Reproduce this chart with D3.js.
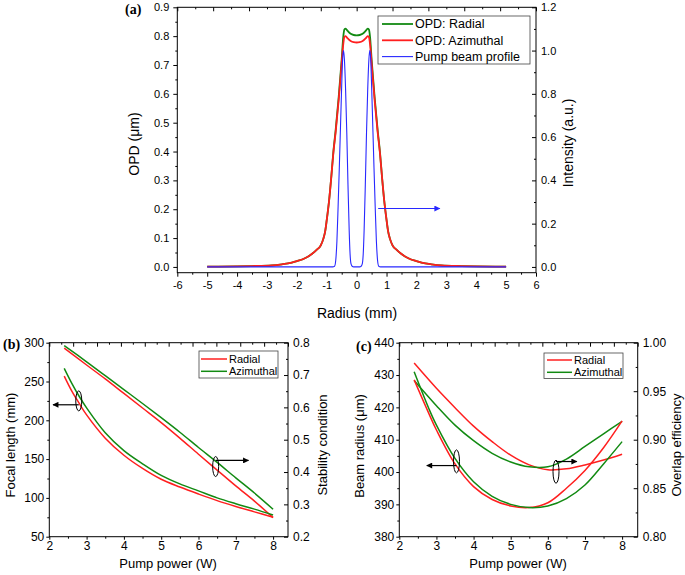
<!DOCTYPE html>
<html><head><meta charset="utf-8">
<script src="https://cdn.jsdelivr.net/npm/d3@7"></script>
<style>body{margin:0;background:#fff}text{font-family:"Liberation Sans",Arial,sans-serif;fill:#000}</style>
</head><body>
<script>
// ---------- Panel (a) data ----------
const radiusA = [-5,-4,-3.5,-2.84,-2.5,-2.17,-2,-1.73,-1.5,-1.34,-1.2,-1.11,-1.05,-1,-0.92,-0.85,-0.78,-0.7,-0.6,-0.5,-0.45,-0.41,-0.37,-0.3,-0.2,-0.1,0,0.1,0.2,0.3,0.37,0.41,0.45,0.5,0.6,0.7,0.78,0.85,0.92,1,1.05,1.11,1.2,1.34,1.5,1.73,2,2.17,2.5,2.84,3.5,4,5];
const opdAzimuthal = [0.001,0.002,0.003,0.005,0.009,0.015,0.02,0.03,0.045,0.059,0.075,0.099,0.125,0.163,0.232,0.31,0.394,0.47,0.58,0.707,0.77,0.797,0.8,0.792,0.783,0.779,0.778,0.779,0.783,0.792,0.8,0.797,0.77,0.707,0.58,0.47,0.394,0.31,0.232,0.163,0.125,0.099,0.075,0.059,0.045,0.03,0.02,0.015,0.009,0.005,0.003,0.002,0.001];
const opdRadial = [0.001,0.002,0.003,0.005,0.009,0.015,0.02,0.03,0.045,0.059,0.075,0.099,0.125,0.163,0.232,0.31,0.398,0.477,0.59,0.72,0.795,0.823,0.826,0.818,0.808,0.804,0.803,0.804,0.808,0.818,0.826,0.823,0.795,0.72,0.59,0.477,0.398,0.31,0.232,0.163,0.125,0.099,0.075,0.059,0.045,0.03,0.02,0.015,0.009,0.005,0.003,0.002,0.001];
const radiusPump = [-5,-0.8,-0.74,-0.7,-0.66,-0.62,-0.58,-0.54,-0.5,-0.47,-0.44,-0.41,-0.37,-0.33,-0.29,-0.25,-0.22,-0.19,-0.15,-0.1,0,0.1,0.15,0.19,0.22,0.25,0.29,0.33,0.37,0.41,0.44,0.47,0.5,0.54,0.58,0.62,0.66,0.7,0.74,0.8,5];
const pumpProfile = [0,0,0.003,0.03,0.12,0.28,0.46,0.65,0.84,0.96,1.0,0.96,0.82,0.62,0.38,0.17,0.06,0.015,0.003,0,0,0,0.003,0.015,0.06,0.17,0.38,0.62,0.82,0.96,1.0,0.96,0.84,0.65,0.46,0.28,0.12,0.03,0.003,0,0];
const legendA = ["OPD: Radial","OPD: Azimuthal","Pump beam profile"];
const ticksAx = [-6,-5,-4,-3,-2,-1,0,1,2,3,4,5,6];
const ticksAyL = [0,0.1,0.2,0.3,0.4,0.5,0.6,0.7,0.8,0.9];
const ticksAyR = [0,0.2,0.4,0.6,0.8,1.0,1.2];

// ---------- Panel (b) data ----------
const powerB = [2.4,2.6,2.8,3,3.5,4,4.5,5,5.5,6,6.5,7,7.5,8];
const focalRadial = [257,238,222,207,177,155,138,124,114,105,96.5,89,82,75];
const focalAzimuthal = [267,248,231,216,184,161,144,129,118,109,100,92.5,85.5,78];
const powerS = [2.4,3,3.5,4,4.5,5,5.5,6,6.5,7,7.5,8];
const stabRadial = [0.783,0.731,0.688,0.643,0.598,0.553,0.505,0.455,0.406,0.357,0.31,0.259];
const stabAzimuthal = [0.791,0.741,0.698,0.655,0.612,0.568,0.523,0.476,0.43,0.382,0.335,0.285];
const ticksBx = [2,3,4,5,6,7,8];
const ticksByL = [50,100,150,200,250,300];
const ticksByR = [0.2,0.3,0.4,0.5,0.6,0.7,0.8];

// ---------- Panel (c) data ----------
const powerC = [2.4,2.8,3,3.5,4,4.5,5,5.5,6,6.5,7,7.5,8];
const beamRadial = [428.5,418,413,402.5,395.5,391.5,389.5,389,390.5,395,400.5,407.5,415.8];
const beamAzimuthal = [431,419.5,414.5,404.2,397,392.5,390,389,389.5,391.8,396,402.5,409.4];
const powerO = [2.4,3,3.5,4,4.5,5,5.5,6,6.5,7,7.5,8];
const overlapRadial = [0.979,0.953,0.933,0.914,0.898,0.884,0.874,0.869,0.870,0.874,0.879,0.885];
const overlapAzimuthal = [0.961,0.935,0.915,0.899,0.886,0.877,0.872,0.872,0.880,0.893,0.906,0.919];
const ticksCx = [2,3,4,5,6,7,8];
const ticksCyL = [380,390,400,410,420,430,440];
const ticksCyR = [0.80,0.85,0.90,0.95,1.00];
const legendBC = ["Radial","Azimuthal"];

const RED = "#ff1f1f", GREEN = "#128a12", BLUE = "#2828ff";

const svg = d3.select("body").append("svg").attr("width",685).attr("height",575);
const defs = svg.append("defs");
function marker(id,color){
  defs.append("marker").attr("id",id).attr("viewBox","0 0 10 10").attr("refX",9).attr("refY",5)
    .attr("markerWidth",7).attr("markerHeight",6).attr("markerUnits","userSpaceOnUse").attr("orient","auto")
    .append("path").attr("d","M0,0L10,5L0,10z").attr("fill",color);
}
marker("arBlue",BLUE); marker("arBlack","#000");

function halfSteps(arr){ const out=[]; for(let i=0;i<arr.length-1;i++) out.push((arr[i]+arr[i+1])/2); return out; }
const hyph = f => (d => f(d).replace("\u2212","-"));

function drawPanel(o){
  const g = svg.append("g");
  const x = d3.scaleLinear().domain(o.xd).range(o.xr);
  const yL = d3.scaleLinear().domain(o.yLd).range(o.yr);
  const yR = d3.scaleLinear().domain(o.yRd).range(o.yr);
  const [x0,x1] = o.xr, [y1,y0] = o.yr;
  const fs = o.fs;
  const bx = g.append("g").attr("transform",`translate(0,${y1})`);
  bx.call(d3.axisBottom(x).tickValues(o.tx).tickFormat(hyph(d3.format("d"))).tickSize(o.tl).tickPadding(o.pb));
  bx.append("g").call(d3.axisBottom(x).tickValues(halfSteps(o.tx)).tickFormat("").tickSize(2));
  const topVals = d3.range(11).map(i=>o.xd[0]+(o.xd[1]-o.xd[0])*i/10);
  const tx = g.append("g").attr("transform",`translate(0,${y0})`);
  tx.call(d3.axisTop(x).tickValues(topVals).tickFormat("").tickSize(-4));
  tx.append("g").call(d3.axisTop(x).tickValues(halfSteps(topVals)).tickFormat("").tickSize(-2));
  const lx = g.append("g").attr("transform",`translate(${x0},0)`);
  lx.call(d3.axisLeft(yL).tickValues(o.tyL).tickFormat(d3.format(o.fL)).tickSize(o.tl).tickPadding(o.pl));
  lx.append("g").call(d3.axisLeft(yL).tickValues(halfSteps(o.tyL)).tickFormat("").tickSize(2));
  const rx = g.append("g").attr("transform",`translate(${x1},0)`);
  rx.call(d3.axisRight(yR).tickValues(o.tyR).tickFormat(d3.format(o.fR)).tickSizeInner(-4).tickSizeOuter(0).tickPadding(5));
  rx.append("g").call(d3.axisRight(yR).tickValues(halfSteps(o.tyR)).tickFormat("").tickSizeInner(-2).tickSizeOuter(0));
  g.selectAll(".domain").remove();
  g.selectAll(".tick line").attr("stroke","#000");
  g.selectAll(".tick text").attr("font-size",fs).attr("font-family","Liberation Sans, Arial, sans-serif").attr("fill","#000");
  g.append("rect").attr("x",x0).attr("y",y0).attr("width",x1-x0).attr("height",y1-y0)
    .attr("fill","none").attr("stroke","#000").attr("stroke-width",1);
  return {g,x,yL,yR};
}

function line(xs,ys,xsc,ysc,curve){
  return d3.line().x((d,i)=>xsc(xs[i])).y(d=>ysc(d)).curve(curve)(ys);
}
function axTitle(txt,x,y,rot,fs){
  const t = svg.append("text").attr("font-size",fs).attr("text-anchor","middle");
  if(rot) t.attr("transform",`translate(${x},${y}) rotate(-90)`).attr("dy","0.35em");
  else t.attr("x",x).attr("y",y);
  t.text(txt); return t;
}
function panelLabel(txt,x,y){
  svg.append("text").attr("x",x).attr("y",y).attr("font-size",14).attr("font-weight","bold")
    .style("font-family","'Liberation Serif', 'Times New Roman', serif").text(txt);
}

// ---------- Panel (a) ----------
const A = drawPanel({xd:[-6,6],xr:[177.3,536],yLd:[-0.02,0.9],yRd:[-0.0267,1.2],yr:[272.7,7.3],
  tx:ticksAx,tyL:ticksAyL,tyR:ticksAyR,fL:".1f",fR:".1f",fs:11,tl:4,pb:5,pl:4});
A.g.append("path").attr("d",line(radiusA,opdRadial,A.x,A.yL,d3.curveMonotoneX)).attr("fill","none").attr("stroke",GREEN).attr("stroke-width",1.8);
A.g.append("path").attr("d",line(radiusA,opdAzimuthal,A.x,A.yL,d3.curveMonotoneX)).attr("fill","none").attr("stroke",RED).attr("stroke-width",1.8);
A.g.append("path").attr("d",line(radiusPump,pumpProfile,A.x,A.yR,d3.curveMonotoneX)).attr("fill","none").attr("stroke",BLUE).attr("stroke-width",1.1);
svg.append("line").attr("x1",A.x(0.72)).attr("x2",A.x(2.78)).attr("y1",A.yR(0.27)).attr("y2",A.yR(0.27))
  .attr("stroke",BLUE).attr("stroke-width",1.1).attr("marker-end","url(#arBlue)");
svg.append("rect").attr("x",378).attr("y",16).attr("width",152).attr("height",48).attr("fill","#fff").attr("stroke","#444").attr("stroke-width",0.8);
[GREEN,RED,BLUE].forEach((c,i)=>{
  const yy = 24+i*16.3;
  svg.append("line").attr("x1",382).attr("x2",413).attr("y1",yy).attr("y2",yy).attr("stroke",c).attr("stroke-width",i<2?1.8:1.1);
  svg.append("text").attr("x",415).attr("y",yy+4.3).attr("font-size",12.5).text(legendA[i]);
});
axTitle("OPD (\u03bcm)",134,144,true,14);
axTitle("Intensity (a.u.)",568,143,true,14);
axTitle("Radius (mm)",357,318,false,14);
panelLabel("(a)",125,14);

// ---------- Panel (b) ----------
const B = drawPanel({xd:[2,8.4],xr:[49.3,288],yLd:[50,300],yRd:[0.2,0.8],yr:[536.7,342.7],
  tx:ticksBx,tyL:ticksByL,tyR:ticksByR,fL:"d",fR:".1f",fs:12,tl:3,pb:2,pl:2});
const cr = d3.curveCatmullRom.alpha(0.5);
B.g.append("path").attr("d",line(powerS,stabRadial,B.x,B.yR,cr)).attr("fill","none").attr("stroke",RED).attr("stroke-width",1.5);
B.g.append("path").attr("d",line(powerS,stabAzimuthal,B.x,B.yR,cr)).attr("fill","none").attr("stroke",GREEN).attr("stroke-width",1.5);
B.g.append("path").attr("d",line(powerB,focalRadial,B.x,B.yL,cr)).attr("fill","none").attr("stroke",RED).attr("stroke-width",1.5);
B.g.append("path").attr("d",line(powerB,focalAzimuthal,B.x,B.yL,cr)).attr("fill","none").attr("stroke",GREEN).attr("stroke-width",1.5);
svg.append("ellipse").attr("cx",B.x(2.79)).attr("cy",B.yL(225)).attr("rx",3).attr("ry",10).attr("fill","none").attr("stroke","#000").attr("stroke-width",1);
svg.append("line").attr("x1",B.x(2.79)).attr("x2",B.x(2.1)).attr("y1",B.yL(220)).attr("y2",B.yL(220)).attr("stroke","#000").attr("stroke-width",1.2).attr("marker-end","url(#arBlack)");
svg.append("ellipse").attr("cx",B.x(6.46)).attr("cy",B.yR(0.417)).attr("rx",3).attr("ry",10).attr("fill","none").attr("stroke","#000").attr("stroke-width",1);
svg.append("line").attr("x1",B.x(6.46)).attr("x2",B.x(7.34)).attr("y1",B.yR(0.436)).attr("y2",B.yR(0.436)).attr("stroke","#000").attr("stroke-width",1.2).attr("marker-end","url(#arBlack)");
svg.append("rect").attr("x",199).attr("y",351).attr("width",79).attr("height",27).attr("fill","#fff").attr("stroke","#444").attr("stroke-width",0.8);
[RED,GREEN].forEach((c,i)=>{
  const yy = 359+i*12.3;
  svg.append("line").attr("x1",201).attr("x2",227).attr("y1",yy).attr("y2",yy).attr("stroke",c).attr("stroke-width",1.5);
  svg.append("text").attr("x",229).attr("y",yy+4).attr("font-size",11).text(legendBC[i]);
});
axTitle("Focal length (mm)",10,445,true,13);
axTitle("Stability condition",322,445,true,13);
axTitle("Pump power (W)",168,568,false,13);
panelLabel("(b)",3,349);

// ---------- Panel (c) ----------
const C = drawPanel({xd:[2,8.42],xr:[399.3,637.7],yLd:[380,440],yRd:[0.8,1.0],yr:[536.7,342.7],
  tx:ticksCx,tyL:ticksCyL,tyR:ticksCyR,fL:"d",fR:".2f",fs:12,tl:3,pb:2,pl:2});
C.g.append("path").attr("d",line(powerO,overlapRadial,C.x,C.yR,cr)).attr("fill","none").attr("stroke",RED).attr("stroke-width",1.5);
C.g.append("path").attr("d",line(powerO,overlapAzimuthal,C.x,C.yR,cr)).attr("fill","none").attr("stroke",GREEN).attr("stroke-width",1.5);
C.g.append("path").attr("d",line(powerC,beamRadial,C.x,C.yL,cr)).attr("fill","none").attr("stroke",RED).attr("stroke-width",1.5);
C.g.append("path").attr("d",line(powerC,beamAzimuthal,C.x,C.yL,cr)).attr("fill","none").attr("stroke",GREEN).attr("stroke-width",1.5);
svg.append("ellipse").attr("cx",C.x(3.54)).attr("cy",C.yL(403.3)).attr("rx",3).attr("ry",11.5).attr("fill","none").attr("stroke","#000").attr("stroke-width",1);
svg.append("line").attr("x1",C.x(3.54)).attr("x2",C.x(2.74)).attr("y1",C.yL(402)).attr("y2",C.yL(402)).attr("stroke","#000").attr("stroke-width",1.2).attr("marker-end","url(#arBlack)");
svg.append("ellipse").attr("cx",C.x(6.22)).attr("cy",C.yR(0.867)).attr("rx",3).attr("ry",11.5).attr("fill","none").attr("stroke","#000").attr("stroke-width",1);
svg.append("line").attr("x1",C.x(6.22)).attr("x2",C.x(6.78)).attr("y1",C.yR(0.8775)).attr("y2",C.yR(0.8775)).attr("stroke","#000").attr("stroke-width",1.2).attr("marker-end","url(#arBlack)");
svg.append("rect").attr("x",544).attr("y",353).attr("width",79).attr("height",25.5).attr("fill","#fff").attr("stroke","#444").attr("stroke-width",0.8);
[RED,GREEN].forEach((c,i)=>{
  const yy = 360+i*12.3;
  svg.append("line").attr("x1",547).attr("x2",572).attr("y1",yy).attr("y2",yy).attr("stroke",c).attr("stroke-width",1.5);
  svg.append("text").attr("x",574).attr("y",yy+4).attr("font-size",11).text(legendBC[i]);
});
axTitle("Beam radius (\u03bcm)",359,446,true,13);
axTitle("Overlap efficiency",676,445,true,13);
axTitle("Pump power (W)",518,568,false,13);
panelLabel("(c)",356,351);
</script>
</body></html>
